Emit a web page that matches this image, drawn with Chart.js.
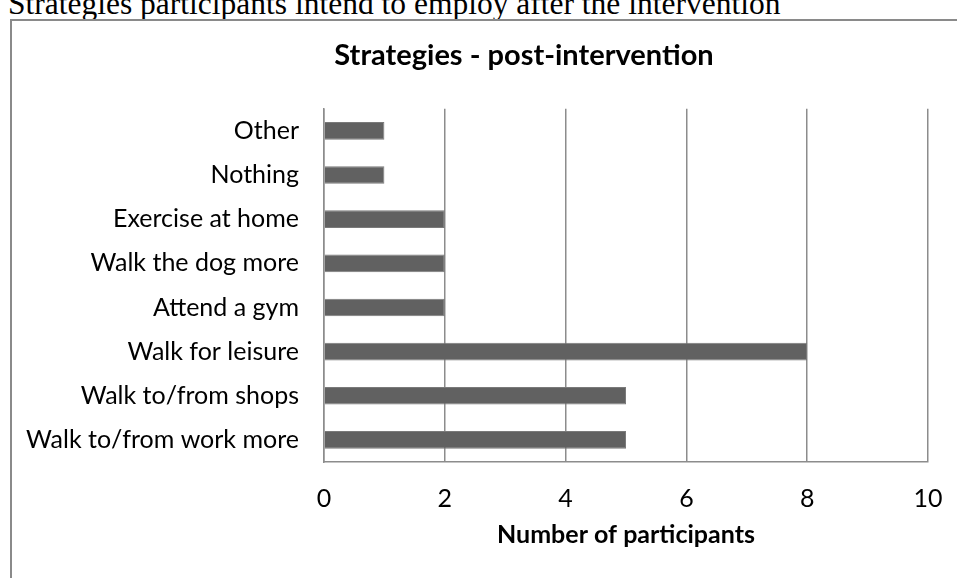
<!DOCTYPE html>
<html>
<head>
<meta charset="utf-8">
<script src="https://cdn.jsdelivr.net/npm/chart.js@4.4.0/dist/chart.umd.min.js"></script>
<style>
  html, body { margin: 0; padding: 0; background: #fff; overflow: hidden; width: 957px; height: 578px; }
  #caption { position: absolute; left: 8px; top: -15px; font-family: "Liberation Serif", "Times New Roman", serif; font-size: 31.5px; line-height: 38px; color: #000; white-space: nowrap; }
  #frame { position: absolute; left: 10px; top: 19px; width: 1040px; height: 600px; border-left: 2px solid #8a8a8a; border-top: 2px solid #8a8a8a; background: #fff; }
  #c { position: absolute; left: 0; top: 0; }
</style>
</head>
<body>
<div id="caption">Strategies participants intend to employ after the intervention</div>
<div id="frame"><canvas id="c" width="1024" height="560"></canvas></div>
<script>
const categories = ["Other", "Nothing", "Exercise at home", "Walk the dog more", "Attend a gym", "Walk for leisure", "Walk to/from shops", "Walk to/from work more"];
const participants = [1, 1, 2, 2, 2, 8, 5, 5];
const xTicks = [0, 2, 4, 6, 8, 10];
const chartTitle = "Strategies - post-intervention";
const xAxisTitle = "Number of participants";

// center the title over the whole chart frame (as in the source chart object)
const fullWidthTitle = {
  id: 'fullWidthTitle',
  afterLayout(chart) {
    const t = chart.titleBlock;
    if (t) { t.left = 0; t.right = chart.width; t.width = chart.width; }
  }
};

function draw() {
  new Chart(document.getElementById('c'), {
    type: 'bar',
    data: {
      labels: categories,
      datasets: [{
        data: participants,
        backgroundColor: '#616161',
        borderColor: '#7a7a7a',
        borderWidth: 1,
        barPercentage: 0.4,
        categoryPercentage: 1.0
      }]
    },
    plugins: [fullWidthTitle],
    options: {
      indexAxis: 'y',
      responsive: false,
      animation: false,
      devicePixelRatio: 1,
      layout: { padding: { left: 0, right: 108, top: 0, bottom: 0 } },
      plugins: {
        legend: { display: false },
        tooltip: { enabled: false },
        title: {
          display: true,
          text: chartTitle,
          color: '#000',
          font: { family: 'Lato', size: 29, weight: 'bold', lineHeight: 1.2 },
          padding: { top: 17, bottom: 36 }
        }
      },
      scales: {
        x: {
          min: xTicks[0],
          max: xTicks[xTicks.length - 1],
          afterBuildTicks: (s) => { s.ticks = xTicks.map(v => ({ value: v })); },
          grid: { color: '#8c8c8c', lineWidth: 1.5, drawTicks: false },
          border: { display: true, color: '#8c8c8c', width: 1.5 },
          ticks: { color: '#000', font: { family: 'Lato', size: 25 }, padding: 22 },
          title: {
            display: true,
            text: xAxisTitle,
            color: '#000',
            font: { family: 'Lato', size: 25, weight: 'bold', lineHeight: 1.2 },
            padding: { top: 0, bottom: 31 }
          },
          afterFit: (s) => { s.height = 119; }
        },
        y: {
          grid: { display: false, drawTicks: false },
          border: { display: true, color: '#8c8c8c', width: 1.5 },
          ticks: { color: '#000', font: { family: 'Lato', size: 25 }, padding: 25 },
          afterFit: (s) => { s.width = 312; }
        }
      }
    }
  });
}
Promise.all([
  document.fonts.load('25px Lato'),
  document.fonts.load('bold 29px Lato')
]).then(draw, draw);
</script>
</body>
</html>
